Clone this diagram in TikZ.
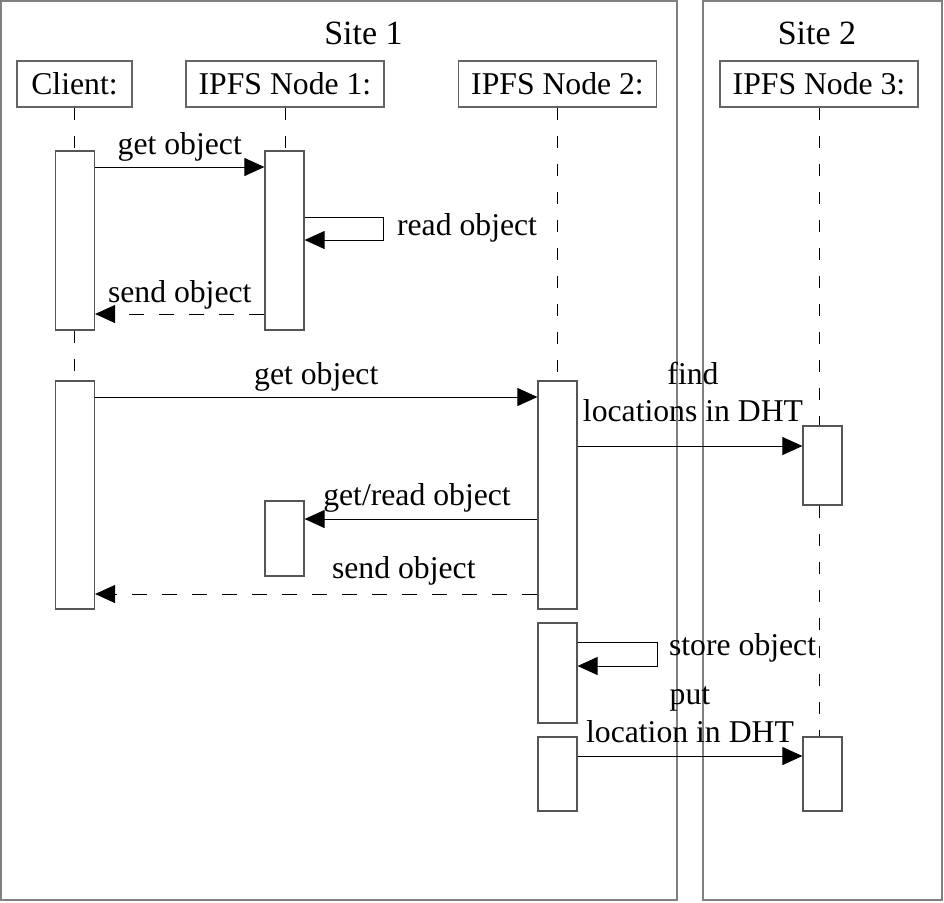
\documentclass[tikz,border=0pt]{standalone}
\usepackage{fontspec}
\setmainfont{Liberation Serif}
\usetikzlibrary{arrows.meta}
\definecolor{bordergray}{RGB}{128,128,128}
\definecolor{headgray}{RGB}{100,100,100}
\definecolor{actgray}{RGB}{85,85,85}
\newcommand\mytxt{\fontsize{15.85}{19}\selectfont}
\newcommand\mysite{\fontsize{17}{20}\selectfont}
\begin{document}
\begin{tikzpicture}[x=0.5pt,y=-0.5pt,
  sitebox/.style={draw=bordergray, line width=1pt},
  sitelabel/.style={font=\mysite, inner sep=0pt, anchor=base},
  headbox/.style={draw=headgray, line width=0.7pt, minimum width=#1, minimum height=23pt, inner sep=0pt, font=\mytxt},
  actbox/.style={draw=actgray, line width=0.6pt, fill=white, minimum width=19.5pt, minimum height=#1, inner sep=0pt},
  lifeline/.style={line width=0.5pt, dash pattern=on 6pt off 8pt},
  msg/.style={line width=0.5pt, -{Triangle[length=10pt,width=9pt]}},
  reply/.style={msg, dash pattern=on 7.5pt off 7.5pt},
  lbl/.style={font=\mytxt, inner sep=0pt, anchor=base},
]
\useasboundingbox (0,0) rectangle (944,902);
% sites
\draw[sitebox] (1,1) rectangle (677,900);
\draw[sitebox] (703,1) rectangle (942,900);
\node[sitelabel] (s1) at (363.5,44) {Site 1};
\node[sitelabel] (s2) at (817,44) {Site 2};
% headers
\node[headbox=57.5pt] (hc) at (74.5,84) {Client:};
\node[headbox=99pt] (h1) at (285,84) {IPFS Node 1:};
\node[headbox=99pt] (h2) at (557.5,84) {IPFS Node 2:};
\node[headbox=99pt] (h3) at (819,84) {IPFS Node 3:};
% activations
\node[actbox=89.5pt] (ca) at (75,240.5) {};
\node[actbox=89.5pt] (n1a) at (284.5,240.5) {};
\node[actbox=114pt] (cb) at (75,495) {};
\node[actbox=114pt] (n2a) at (557.5,495) {};
\node[actbox=39.5pt] (n3a) at (822.5,465.5) {};
\node[actbox=37.5pt] (n1b) at (284.5,538.5) {};
\node[actbox=50pt] (n2b) at (557.5,673) {};
\node[actbox=37pt] (n2c) at (557.5,774) {};
\node[actbox=37pt] (n3b) at (822.5,774) {};
% lifelines
\draw[lifeline] (hc.south) -- (hc.south |- ca.north);
\draw[lifeline] (hc.south |- ca.south) -- (hc.south |- cb.north);
\draw[lifeline] (h1.south) -- (h1.south |- n1a.north);
\draw[lifeline] (h2.south) -- (h2.south |- n2a.north);
\draw[lifeline] (h3.south) -- (h3.south |- n3a.north);
\draw[lifeline] (h3.south |- n3a.south) -- (h3.south |- n3b.north);
% messages
\draw[msg] (ca.east |- 0,167) -- node[lbl, yshift=6.5pt] {get object} (n1a.west |- 0,167);
\draw[msg] (n1a.east |- 0,217) -- ++(79,0) -- ++(0,23)
  node[midway, lbl, anchor=base west, xshift=6.5pt, yshift=-3.25pt] {read object}
  -- (n1a.east |- 0,240);
\draw[reply] (n1a.west |- 0,314) -- node[lbl, yshift=6pt] {send object} (ca.east |- 0,314);
\draw[msg] (cb.east |- 0,397) -- node[lbl, yshift=6.5pt] {get object} (n2a.west |- 0,397);
\draw[msg] (n2a.east |- 0,446) --
  node[lbl, yshift=31pt, xshift=1.5pt] {find}
  node[lbl, yshift=12.2pt, xshift=1.5pt] {locations in DHT}
  (n3a.west |- 0,446);
\draw[msg] (n2a.west |- 0,519) -- node[lbl, yshift=7pt, xshift=-2pt] {get/read object} (n1b.east |- 0,519);
\draw[reply] (n2a.west |- 0,594) -- node[pos=0.302, lbl, yshift=8pt] {send object} (cb.east |- 0,594);
\draw[msg] (n2b.east |- 0,642) -- ++(80,0) -- ++(0,24)
  node[midway, lbl, anchor=base west, xshift=5.5pt, yshift=-0.5pt] {store object}
  -- (n2b.east |- 0,666);
\draw[msg] (n2c.east |- 0,756) --
  node[lbl, yshift=26pt] {put}
  node[lbl, yshift=7pt] {location in DHT}
  (n3b.west |- 0,756);
\end{tikzpicture}
\end{document}
